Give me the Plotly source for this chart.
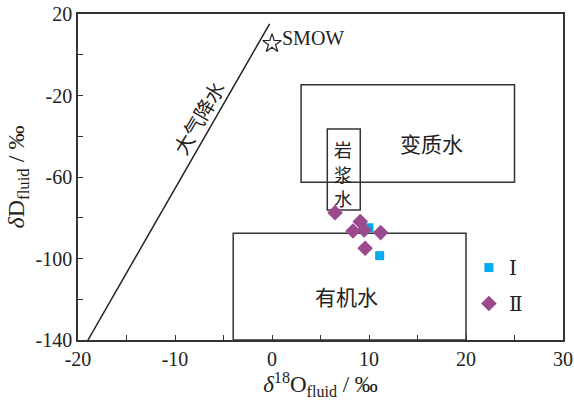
import plotly.graph_objects as go

# Fluid isotope compositions (δ18O_fluid, δD_fluid, ‰)
group_I_d18O = [10.0, 11.1]
group_I_dD = [-84.9, -98.6]
group_II_d18O = [6.5, 9.1, 8.35, 9.5, 11.2, 9.6]
group_II_dD = [-77.5, -81.9, -86.5, -86.0, -87.3, -95.0]

# Meteoric water line end points
mwl_d18O = [-18.97, -0.25]
mwl_dD = [-140.0, 15.1]

# Reference water fields: (x0, x1, y0, y1)
fields = {
    "变质水": (3.0, 25.0, -62.6, -14.7),
    "岩浆水": (5.7, 9.1, -76.2, -36.4),
    "有机水": (-4.0, 20.0, -140.0, -87.6),
}

smow = (0.0, 5.5)

x_ticks = [-20, -10, 0, 10, 20, 30]
y_ticks = [20, -20, -60, -100, -140]

serif = "Liberation Serif, Times New Roman, serif"
cjk = "Noto Sans CJK SC"
ink = "#333333"
text_col = "#222222"

fig = go.Figure()

for name, (x0, x1, y0, y1) in fields.items():
    fig.add_shape(type="rect", x0=x0, x1=x1, y0=y0, y1=y1,
                  line=dict(color=ink, width=1.5), layer="below")

fig.add_trace(go.Scatter(x=mwl_d18O, y=mwl_dD, mode="lines",
                         line=dict(color=text_col, width=1.5),
                         showlegend=False, hoverinfo="skip"))

fig.add_trace(go.Scatter(x=[smow[0]], y=[smow[1]], mode="markers",
                         marker=dict(symbol="star-open", size=14,
                                     color=text_col, line=dict(width=1.2)),
                         showlegend=False))

fig.add_trace(go.Scatter(x=group_I_d18O, y=group_I_dD, mode="markers",
                         name="Ⅰ", legendgroup="I",
                         marker=dict(symbol="square", size=9, color="#00AEEF")))
fig.add_trace(go.Scatter(x=group_II_d18O, y=group_II_dD, mode="markers",
                         name="Ⅱ", legendgroup="II",
                         marker=dict(symbol="diamond", size=12, color="#9B4A8E")))

# Field labels
fig.add_annotation(x=16.4, y=-43.3, text="变质水", showarrow=False,
                   font=dict(family=cjk, size=21, color=text_col))
# magmatic-water label stacked vertically, one character per row
for i, ch in enumerate("岩浆水"):
    fig.add_annotation(x=7.35, y=-46.4 - 12.0 * i, text=ch, showarrow=False,
                       font=dict(family=cjk, size=18, color=text_col))
fig.add_annotation(x=7.7, y=-118.4, text="有机水", showarrow=False,
                   font=dict(family=cjk, size=21, color=text_col))
fig.add_annotation(x=-7.6, y=-30.6, text="大气降水", showarrow=False,
                   textangle=-60,
                   font=dict(family=cjk, size=20, color=text_col))
fig.add_annotation(x=4.2, y=8.4, text="SMOW", showarrow=False,
                   font=dict(family=serif, size=20, color=text_col))

axis_common = dict(
    showgrid=False, zeroline=False, showline=True, mirror=True,
    linecolor=ink, linewidth=1.5, ticks="inside", ticklen=5,
    tickcolor=ink, tickwidth=1.2, automargin=False,
    tickfont=dict(family=serif, size=20, color=text_col),
)

fig.update_xaxes(range=[-20, 30], tickvals=x_ticks,
                 ticktext=[str(v) for v in x_ticks],
                 minor=dict(dtick=5, tick0=-20, ticks="inside", ticklen=5,
                            tickcolor=ink, tickwidth=1.2),
                 title=dict(text="<i>δ</i><sup>18</sup>O<sub>fluid</sub> / ‰",
                            font=dict(family=serif, size=23, color=text_col),
                            standoff=10),
                 **axis_common)
fig.update_yaxes(range=[-140, 20], tickvals=y_ticks,
                 ticktext=[str(v) for v in y_ticks],
                 minor=dict(dtick=20, tick0=20, ticks="inside", ticklen=5,
                            tickcolor=ink, tickwidth=1.2),
                 title=dict(text="<i>δ</i>D<sub>fluid</sub> / ‰",
                            font=dict(family=serif, size=24, color=text_col),
                            standoff=4),
                 **axis_common)

fig.update_layout(
    width=574, height=400,
    margin=dict(l=78, r=11, t=14, b=60),
    plot_bgcolor="white", paper_bgcolor="white",
    legend=dict(x=0.806, y=0.282, xanchor="left", yanchor="top",
                bgcolor="rgba(0,0,0,0)", tracegroupgap=7,
                font=dict(family="DejaVu Serif", size=20, color=text_col)),
)

fig.write_html("out.html")
